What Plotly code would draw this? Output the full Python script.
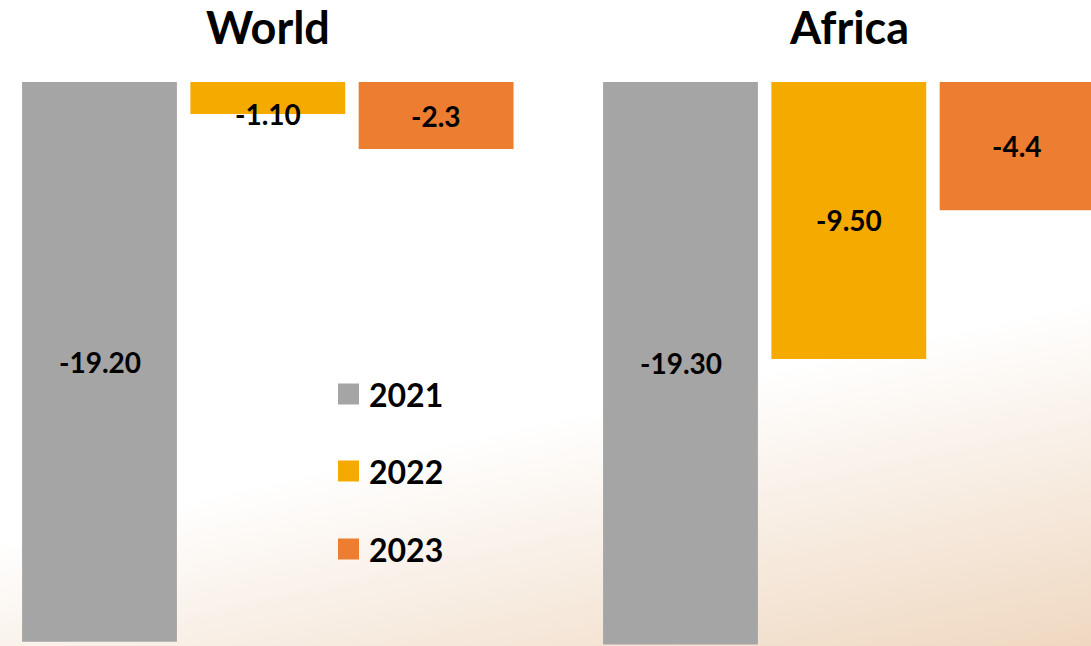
import base64
import plotly.graph_objects as go

# ---- data ----
regions = ["World", "Africa"]
years = ["2021", "2022", "2023"]
world_values = [-19.20, -1.10, -2.3]
africa_values = [-19.30, -9.50, -4.4]
world_labels = ["-19.20", "-1.10", "-2.3"]
africa_labels = ["-19.30", "-9.50", "-4.4"]
colors = ["#A5A5A5", "#F5AA00", "#ED7D31"]

W, H = 1091, 646
TOP = 82
FONT = "Lato"

def px_x(p):
    return p / W

def px_y(p):
    return (H - p) / (H - TOP)

fig = go.Figure()
pos = [0, 1, 2]
for vals, ax in [(world_values, "x"), (africa_values, "x2")]:
    for i, v in enumerate(vals):
        fig.add_trace(go.Bar(
            x=[pos[i]], y=[v], width=0.92,
            marker=dict(color=colors[i], line=dict(width=0)),
            xaxis=ax, yaxis="y" if ax == "x" else "y2",
            showlegend=False, hoverinfo="skip",
        ))

unit = 168.3
span = 545.5 / unit
fig.update_layout(
    width=W, height=H,
    margin=dict(l=0, r=0, t=TOP, b=0),
    paper_bgcolor="white",
    plot_bgcolor="rgba(0,0,0,0)",
    barmode="overlay",
    xaxis=dict(domain=[0, 0.5], range=[-99.5 / unit, -99.5 / unit + span],
               visible=False, fixedrange=True),
    xaxis2=dict(domain=[0.5, 1], range=[-135 / unit, -135 / unit + span],
                visible=False, fixedrange=True),
    yaxis=dict(range=[-19.35, 0], visible=False, anchor="x", fixedrange=True),
    yaxis2=dict(range=[-19.35, 0], visible=False, anchor="x2", fixedrange=True),
)

# gradient background
svg = ("<svg xmlns='http://www.w3.org/2000/svg' width='1091' height='646' "
       "viewBox='0 0 1091 646' preserveAspectRatio='none'><defs>"
       "<linearGradient id='g' gradientUnits='userSpaceOnUse' x1='770' y1='370' "
       "x2='843' y2='701'><stop offset='0' stop-color='#ffffff'/>"
       "<stop offset='1' stop-color='#EFD8C1'/></linearGradient></defs>"
       "<rect width='1091' height='646' fill='url(#g)'/></svg>")
src = "data:image/svg+xml;base64," + base64.b64encode(svg.encode()).decode()
fig.add_layout_image(dict(source=src, xref="paper", yref="paper",
                          x=0, y=px_y(0), sizex=1, sizey=H / (H - TOP),
                          sizing="stretch", xanchor="left", yanchor="top",
                          layer="below"))

annos = []
# titles
for r, ax in zip(regions, ["x", "x2"]):
    annos.append(dict(text=r, xref=ax, x=1, yref="paper", y=px_y(27),
                      xanchor="center", yanchor="middle", showarrow=False,
                      font=dict(family=FONT, size=45, color="black", weight="bold")))
# value labels
scale = (H - TOP) / 19.35
for vals, labs, ax, ay in [(world_values, world_labels, "x", "y"),
                           (africa_values, africa_labels, "x2", "y2")]:
    for i, (v, t) in enumerate(zip(vals, labs)):
        yl = v / 2 if abs(v) * scale > 40 else v
        annos.append(dict(text=t, xref=ax, x=pos[i], yref=ay, y=yl,
                          xanchor="center", yanchor="middle", showarrow=False,
                          font=dict(family=FONT, size=28, color="black", weight="bold")))

# legend (manual)
shapes = []
leg_y = [394, 471, 549]
for yr, c, cy in zip(years, colors, leg_y):
    shapes.append(dict(type="rect", xref="paper", yref="paper",
                       x0=px_x(338), x1=px_x(359), y0=px_y(cy + 10.5), y1=px_y(cy - 10.5),
                       fillcolor=c, line=dict(width=0)))
    annos.append(dict(text=yr, xref="paper", x=px_x(367), yref="paper", y=px_y(cy),
                      xanchor="left", yanchor="middle", showarrow=False,
                      font=dict(family=FONT, size=32, color="black", weight="bold")))

fig.update_layout(annotations=annos, shapes=shapes)
fig.write_html("out.html", config={"displayModeBar": False},
               post_script="document.body.style.margin='0';document.body.style.overflow='hidden';")
